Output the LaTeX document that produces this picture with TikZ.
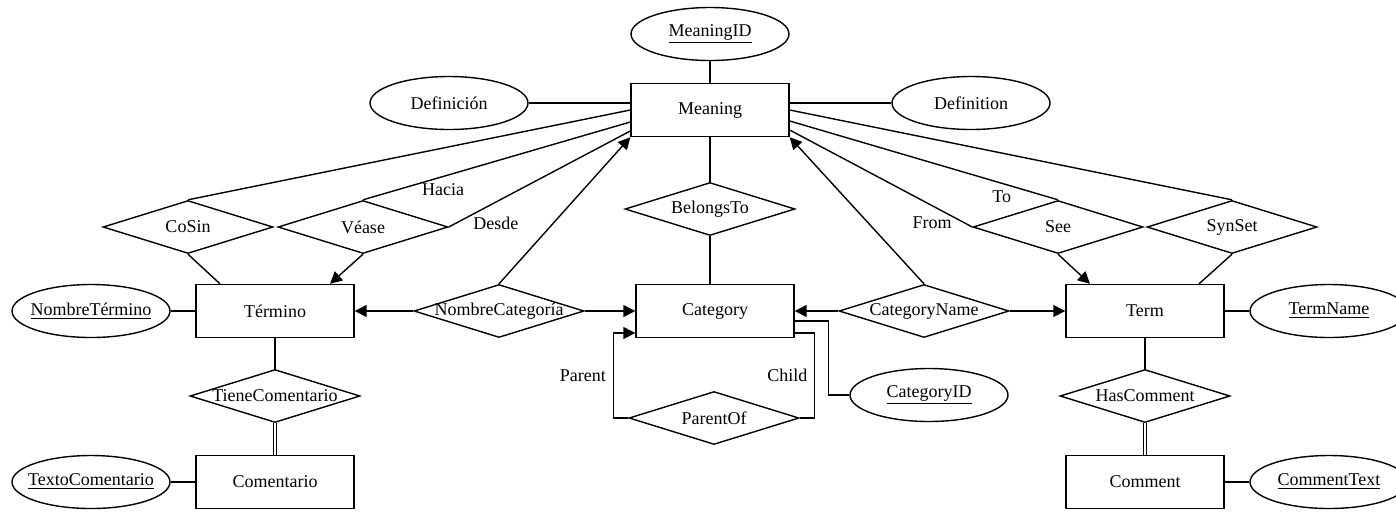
\documentclass[tikz,border=0pt]{standalone}
\usepackage{fontspec}
\setmainfont{Liberation Serif}
\usetikzlibrary{shapes.geometric,arrows.meta,calc,positioning}

\begin{document}
\begin{tikzpicture}[x=0.5pt, y=-0.5pt, line width=0.7pt,
    font=\fontsize{9pt}{11pt}\selectfont,
    entity/.style={draw, rectangle, minimum width=79pt, minimum height=26.5pt, inner sep=0pt},
    attrib/.style={draw, ellipse, minimum width=79pt, minimum height=26.5pt, inner xsep=-10pt, inner ysep=0pt},
    relation/.style={draw, diamond, aspect=3.2, minimum width=85pt, minimum height=26.5pt, inner xsep=-15pt, inner ysep=0pt},
    arr/.style={-{Triangle[length=6pt, width=6pt]}}]
  \useasboundingbox (0,0) rectangle (1396,511);

  \node (Meaning) [entity] at (710,110) {Meaning};
  \node (MeaningID) [attrib] at (710,34) {\underline{MeaningID}};
  \node (Definicion) [attrib] at (449,103) {Definición};
  \node (Definition) [attrib] at (971,103) {Definition};

  \node (CoSin) [relation] at (188,227) {CoSin};
  \node (Vease) [relation] at (363,227) {Véase};
  \node (BelongsTo) [relation] at (710,209) {BelongsTo};
  \node (See) [relation] at (1058,227) {See};
  \node (SynSet) [relation] at (1232,227) {SynSet};

  \node (Termino) [entity] at (275,311) {Término};
  \node (NombreTermino) [attrib] at (91,311) {\underline{NombreTérmino}};
  \node (NombreCategoria) [relation] at (499,311) {NombreCategoría};
  \node (Category) [entity] at (715,311) {Category};
  \node (CategoryName) [relation] at (924,311) {CategoryName};
  \node (Term) [entity] at (1145,311) {Term};
  \node (TermName) [attrib] at (1329,311) {\underline{TermName}};

  \node (ParentOf) [relation] at (714,418) {ParentOf};
  \node (CategoryID) [attrib] at (929,395) {\underline{CategoryID}};

  \node (TieneComentario) [relation] at (275,396) {TieneComentario};
  \node (Comentario) [entity] at (275,482) {Comentario};
  \node (TextoComentario) [attrib] at (91,482) {\underline{TextoComentario}};
  \node (HasComment) [relation] at (1145,396) {HasComment};
  \node (Comment) [entity] at (1145,482) {Comment};
  \node (CommentText) [attrib] at (1329,482) {\underline{CommentText}};

  \draw (Meaning) -- (MeaningID);
  \draw (Definicion) -- (Definicion -| Meaning.west);
  \draw (Definition) -- (Definition -| Meaning.east);
  \draw (Meaning.west) -- (CoSin.north);
  \draw ($(Meaning.west)+(0,12)$) -- node[pos=0.7, below] {Hacia} (Vease.north);
  \draw ($(Meaning.west)+(0,21)$) -- node[pos=0.74, below=4pt] {Desde} (Vease.east);
  \draw (Meaning.east) -- (SynSet.north);
  \draw ($(Meaning.east)+(0,11)$) -- node[pos=0.79, below] {To} (See.north);
  \draw ($(Meaning.east)+(0,20)$) -- node[pos=0.78, below=2pt] {From} (See.west);

  \draw (CoSin.south) -- ($(Termino.north)+(-55,0)$);
  \draw[arr] (Vease.south) -- ($(Termino.north)+(55,0)$);
  \draw[arr] (See.south) -- ($(Term.north)+(-55,0)$);
  \draw (SynSet.south) -- ($(Term.north)+(54,0)$);

  \draw (Meaning) -- (BelongsTo);
  \draw (BelongsTo.south) -- (BelongsTo.south |- Category.north);

  \draw[arr] (NombreCategoria.west) -- (Termino.east);
  \draw[arr] (NombreCategoria.east) -- (Category.west);
  \draw[arr] (NombreCategoria.north) -- (Meaning.south west);
  \draw[arr] (CategoryName.west) -- (Category.east);
  \draw[arr] (CategoryName.east) -- (Term.west);
  \draw[arr] (CategoryName.north) -- (Meaning.south east);

  \draw[arr] (ParentOf.west) -- ++(-15,0) |- node[pos=0.25, left] {Parent} ($(Category.west)+(0,22)$);
  \draw ($(Category.east)+(0,22)$) -- ++(20,0) |- node[pos=0.25, left] {Child} (ParentOf.east);
  \draw ($(Category.east)+(0,10)$) -- ++(34,0) |- (CategoryID.west);

  \draw (NombreTermino) -- (Termino);
  \draw (Termino) -- (TieneComentario);
  \draw[double, double distance=0.8pt] (TieneComentario) -- (Comentario);
  \draw (TextoComentario) -- (Comentario);
  \draw (Term) -- (TermName);
  \draw (Term) -- (HasComment);
  \draw[double, double distance=0.8pt] (HasComment) -- (Comment);
  \draw (Comment) -- (CommentText);
\end{tikzpicture}
\end{document}
